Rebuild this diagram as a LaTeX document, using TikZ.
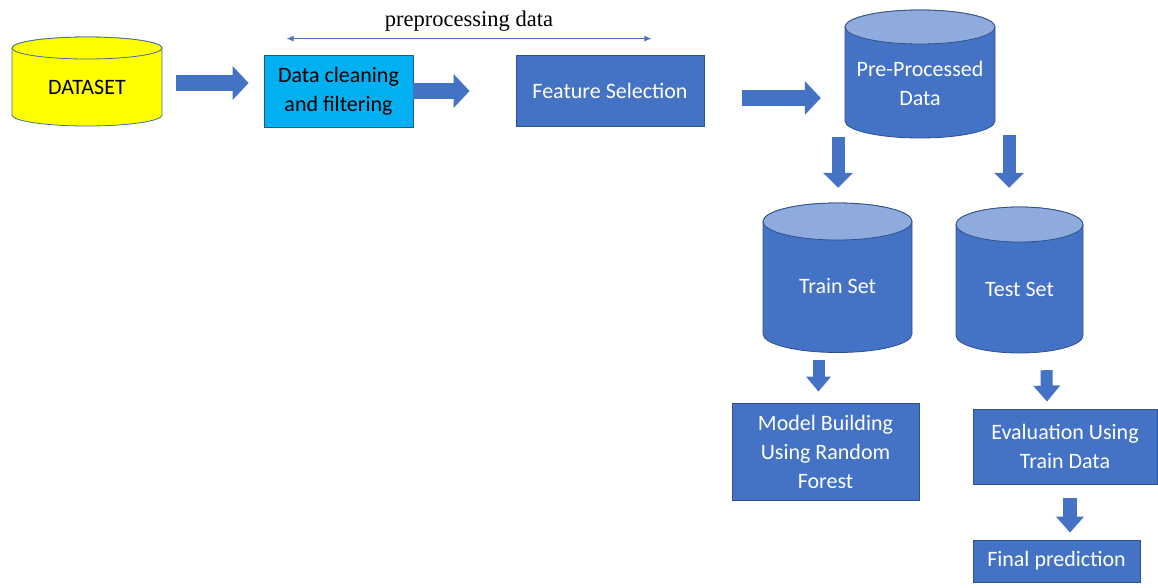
\documentclass[tikz,border=0pt]{standalone}
\usepackage{fontspec}
\setmainfont{Carlito}
\newfontfamily\captionserif{Liberation Serif}
\usetikzlibrary{arrows.meta,calc}

\definecolor{boxblue}{HTML}{4472C4}
\definecolor{edgeblue}{HTML}{2F528F}
\definecolor{capblue}{HTML}{8FAADC}
\definecolor{cyanbox}{HTML}{00B0F0}
\definecolor{dsyellow}{HTML}{FFFF00}
\definecolor{dsedge}{HTML}{41719C}

\tikzset{
  % blue process boxes
  procbox/.style={rectangle, fill=boxblue, draw=edgeblue, line width=0.8pt,
    text=white, align=center, font=\fontsize{22}{29}\selectfont, inner sep=0pt},
  cleanbox/.style={procbox, fill=cyanbox, text=black},
  % cylinders: body, top ellipse, label
  yd body/.style={fill=dsyellow, draw=dsedge, line width=0.8pt},
  yd top/.style={fill=dsyellow, draw=dsedge, line width=0.8pt},
  yd text/.style={text=black, align=center, font=\fontsize{22}{29}\selectfont},
  bd body/.style={fill=boxblue, draw=edgeblue, line width=0.8pt},
  bd top/.style={fill=capblue, draw=edgeblue, line width=0.8pt},
  bd text/.style={text=white, align=center, font=\fontsize{22}{29}\selectfont},
  % thick block arrows
  bigflow/.style={draw=boxblue, line width=16pt,
    -{Triangle[length=16pt,width=33pt]}},
  smallflow/.style={draw=boxblue, line width=12pt,
    -{Triangle[length=16pt,width=26pt]}},
  spanline/.style={draw=boxblue, line width=0.9pt,
    {Latex[length=7pt,width=6pt]}-{Latex[length=7pt,width=6pt]}},
}

% #1 style prefix, #2 name, #3 centre x, #4 y of top ellipse, #5 y of bottom ellipse,
% #6 x radius, #7 y radius, #8 y of label, #9 label
\newcommand\drum[9]{%
  \filldraw[#1 body] (#3-#6,#4) -- (#3-#6,#5)
    arc[start angle=180,end angle=0,x radius=#6,y radius=#7]
    -- (#3+#6,#4)
    arc[start angle=0,end angle=-180,x radius=#6,y radius=#7] -- cycle;
  \filldraw[#1 top] (#3,#4) ellipse[x radius=#6,y radius=#7];
  \path (#3,{(#4+#5)/2}) node[inner sep=0pt, minimum width={2*#6pt},
    minimum height={(#5-#4+2*#7)*1pt}] (#2) {};
  \node[#1 text] (#2-label) at (#3,#8) {#9};
}

\begin{document}
\begin{tikzpicture}[x=1pt,y=-1pt]
\useasboundingbox (0,0) rectangle (1158,587);

% storage cylinders
\drum{yd}{ds}{87}{48}{115}{75}{11}{87.5}{DATASET}
\drum{bd}{pp}{920}{27}{121}{75}{17}{83}{Pre-Processed\\Data}
\drum{bd}{tr}{837.5}{221.5}{334}{74.5}{18.5}{286}{Train Set}
\drum{bd}{te}{1019.5}{224.5}{335.5}{63.5}{17.5}{289}{Test Set}

% processing steps
\node[cleanbox, minimum width=149pt, minimum height=72pt] (dc) at (338.5,91)
  {Data cleaning\\and filtering};
\node[procbox, minimum width=188pt, minimum height=71pt] (fs) at (610,90.5)
  {Feature Selection};
\node[procbox, minimum width=187pt, minimum height=97pt] (mb) at (825.5,451.5)
  {Model Building\\Using Random\\Forest};
\node[procbox, minimum width=184pt, minimum height=75pt] (ev) at (1065,446.5)
  {Evaluation Using\\Train Data};
\node[procbox, minimum width=167pt, minimum height=42pt] (fp) at (1056.5,561)
  {Final prediction};

% span of the preprocessing stage
\coordinate (spanL) at ($(dc.north west)+(23,-16)$);
\coordinate (spanR) at ($(fs.north east)+(-53,-16)$);
\draw[spanline] (spanL) -- (spanR);
\node[font=\captionserif\fontsize{22.5}{26}\selectfont, anchor=base] (spanlabel)
  at ($(spanL)!0.5!(spanR)+(0,-12)$) {preprocessing data};

% flow arrows
\draw[bigflow] ($(ds.east)+(14,1.5)$) -- ($(dc.west)+(-15,-8)$);
\draw[bigflow] ($(dc.east)+(0,0)$) -- ($(fs.west)+(-46,0.5)$);
\draw[bigflow] ($(fs.east)+(38,7.5)$) -- ($(pp.west)+(-24,24)$);
\draw[smallflow, line width=13pt, -{Triangle[length=15pt,width=29pt]}]
  ($(pp.south)+(-82,-1)$) -- ($(tr.north)+(0.5,-15)$);
\draw[smallflow, line width=13pt, -{Triangle[length=15pt,width=29pt]}]
  ($(pp.south)+(89,-3)$) -- ($(te.north)+(-10.5,-19)$);
\draw[smallflow, -{Triangle[length=15pt,width=24pt]}]
  ($(tr.south)+(-19,7)$) -- ($(mb.north)+(-7,-11)$);
\draw[smallflow] ($(te.south)+(27,17)$) -- ($(ev.north)+(-18,-7)$);
\draw[smallflow, line width=14pt, -{Triangle[length=16pt,width=27pt]}]
  ($(ev.south)+(5,14)$) -- ($(fp.north)+(13.5,-7)$);
\end{tikzpicture}
\end{document}
